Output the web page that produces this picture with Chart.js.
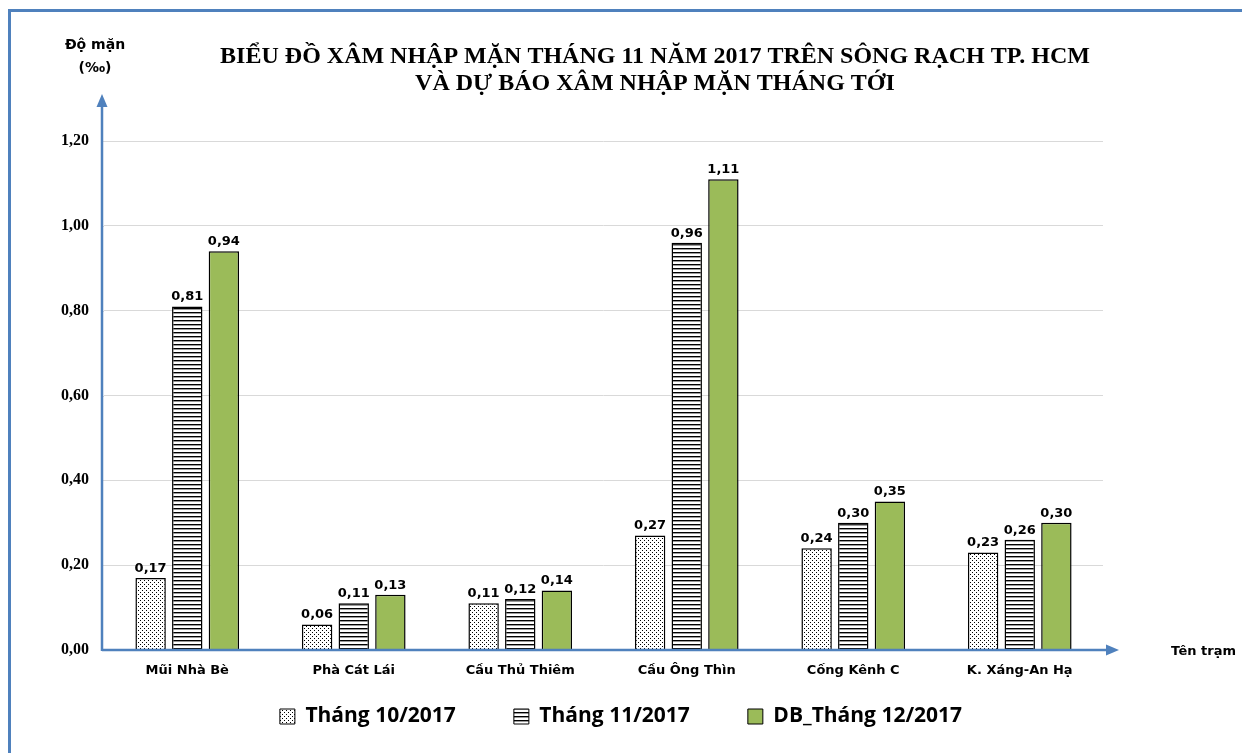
<!DOCTYPE html>
<html>
<head>
<meta charset="utf-8">
<script src="https://cdn.jsdelivr.net/npm/chart.js@4/dist/chart.umd.min.js"></script>
<style>
  body { margin: 0; background: #fff; }
  #khung { position: relative; width: 1242px; height: 753px; overflow: hidden; }
  #vien { position: absolute; left: 8px; top: 9px; right: -10px; bottom: -10px;
          border-top: 3px solid #4f81bd; border-left: 3px solid #4f81bd; pointer-events: none; }
</style>
</head>
<body>
<div id="khung">
  <canvas id="bieuDo" width="1242" height="753"></canvas>
  <div id="vien"></div>
</div>
<script>
// Du lieu doc tu hinh
const tramDo = ["Mũi Nhà Bè", "Phà Cát Lái", "Cầu Thủ Thiêm", "Cầu Ông Thìn", "Cống Kênh C", "K. Xáng-An Hạ"];
const thang10 = [0.17, 0.06, 0.11, 0.27, 0.24, 0.23];
const thang11 = [0.81, 0.11, 0.12, 0.96, 0.30, 0.26];
const duBao12 = [0.94, 0.13, 0.14, 1.11, 0.35, 0.30];
const nhanChuoi = ["Tháng 10/2017", "Tháng 11/2017", "DB_Tháng 12/2017"];
const tieuDe = ["BIỂU ĐỒ XÂM NHẬP MẶN THÁNG 11 NĂM 2017 TRÊN SÔNG RẠCH TP. HCM",
                "VÀ DỰ BÁO XÂM NHẬP MẶN THÁNG TỚI"];

const mauTruc = "#4f81bd";
const fontSans = "'DejaVu Sans', sans-serif";

// hoa van cham bi
function hoaVanCham() {
    const c = document.createElement("canvas");
    c.width = 4; c.height = 4;
    const g = c.getContext("2d");
    g.fillStyle = "#fff"; g.fillRect(0, 0, 4, 4);
    g.fillStyle = "#000";
    g.fillRect(0, 0, 1, 1);
    g.fillRect(2, 2, 1, 1);
    return g.createPattern(c, "repeat");
}
// hoa van soc ngang
function hoaVanSoc() {
    const c = document.createElement("canvas");
    c.width = 4; c.height = 4;
    const g = c.getContext("2d");
    g.fillStyle = "#fff"; g.fillRect(0, 0, 4, 4);
    g.fillStyle = "#000"; g.fillRect(0, 0, 4, 1);
    g.fillStyle = "#9a9a9a"; g.fillRect(0, 1, 4, 1);
    return g.createPattern(c, "repeat");
}

// ve nhan so lieu tren dau cot
const nhanGiaTri = {
    id: "nhanGiaTri",
    afterDatasetsDraw(chart) {
        const ctx = chart.ctx;
        ctx.save();
        ctx.font = "bold 13px " + fontSans;
        ctx.fillStyle = "#000";
        ctx.textAlign = "center";
        ctx.textBaseline = "bottom";
        chart.data.datasets.forEach((ds, i) => {
            chart.getDatasetMeta(i).data.forEach((bar, j) => {
                ctx.fillText(ds.data[j].toFixed(2).replace(".", ","), bar.x, bar.y - 3);
            });
        });
        ctx.restore();
    }
};

// truc co mui ten, tieu de, don vi
const trangTri = {
    id: "trangTri",
    beforeDatasetsDraw(chart) {
        // noi luoi ngang sang trai toi truc
        const ctx = chart.ctx;
        const a = chart.chartArea;
        const y = chart.scales.y;
        ctx.save();
        ctx.strokeStyle = "#d9d9d9";
        ctx.lineWidth = 1;
        y.ticks.forEach(t => {
            const py = Math.round(y.getPixelForValue(t.value)) + 0.5;
            ctx.beginPath();
            ctx.moveTo(a.left - 3, py);
            ctx.lineTo(a.left, py);
            ctx.stroke();
        });
        ctx.restore();
    },
    afterDraw(chart) {
        const ctx = chart.ctx;
        const a = chart.chartArea;
        const x0 = a.left - 2;
        const y0 = chart.scales.y.getPixelForValue(0);
        ctx.save();
        ctx.strokeStyle = mauTruc;
        ctx.fillStyle = mauTruc;
        ctx.lineWidth = 2.5;
        // truc dung
        ctx.beginPath();
        ctx.moveTo(x0, y0 + 1);
        ctx.lineTo(x0, a.top - 35);
        ctx.stroke();
        ctx.beginPath();
        ctx.moveTo(x0, a.top - 47);
        ctx.lineTo(x0 - 5.5, a.top - 34);
        ctx.lineTo(x0 + 5.5, a.top - 34);
        ctx.closePath();
        ctx.fill();
        // truc ngang
        ctx.beginPath();
        ctx.moveTo(x0, y0);
        ctx.lineTo(a.right + 5, y0);
        ctx.stroke();
        ctx.beginPath();
        ctx.moveTo(a.right + 16, y0);
        ctx.lineTo(a.right + 3, y0 - 5.5);
        ctx.lineTo(a.right + 3, y0 + 5.5);
        ctx.closePath();
        ctx.fill();

        ctx.fillStyle = "#000";
        ctx.textAlign = "center";
        ctx.textBaseline = "middle";
        ctx.font = "bold 24px 'Liberation Serif', serif";
        ctx.fillText(tieuDe[0], 655, 57);
        ctx.fillText(tieuDe[1], 655, 84);

        ctx.font = "bold 14px " + fontSans;
        ctx.fillText("Độ mặn", 95, 45);
        ctx.fillText("(‰)", 95, 68);
        ctx.font = "bold 13px " + fontSans;
        ctx.textAlign = "left";
        ctx.fillText("Tên trạm", 1171, y0 + 2);
        ctx.restore();
    }
};

const kieuCot = { borderColor: "#000", borderWidth: 1.5, categoryPercentage: 0.66, barPercentage: 0.83 };

new Chart(document.getElementById("bieuDo"), {
    type: "bar",
    data: {
        labels: tramDo,
        datasets: [
            { label: nhanChuoi[0], data: thang10, backgroundColor: hoaVanCham(), ...kieuCot },
            { label: nhanChuoi[1], data: thang11, backgroundColor: hoaVanSoc(), ...kieuCot },
            { label: nhanChuoi[2], data: duBao12, backgroundColor: "#9bbb59", ...kieuCot }
        ]
    },
    options: {
        responsive: false,
        animation: false,
        layout: { padding: { top: 141, bottom: 16, left: 0, right: 0 } },
        plugins: {
            title: { display: false },
            tooltip: { enabled: false },
            legend: {
                position: "bottom",
                labels: {
                    color: "#000",
                    font: { family: "'Open Sans', sans-serif", size: 21, weight: "bold" },
                    boxWidth: 15,
                    boxHeight: 15,
                    padding: 16,
                    generateLabels(chart) {
                        const ds = chart.data.datasets;
                        return ds.map((d, i) => ({
                            text: d.label + (i < ds.length - 1 ? "\u2003\u2003" : ""),
                            fillStyle: d.backgroundColor,
                            strokeStyle: "#000",
                            lineWidth: 1,
                            datasetIndex: i
                        }));
                    }
                }
            }
        },
        scales: {
            x: {
                grid: { display: false },
                border: { display: false },
                ticks: { color: "#000", padding: 5, font: { family: fontSans, size: 13, weight: "bold" } },
                afterFit(s) { s.height = 40; }
            },
            y: {
                min: 0,
                max: 1.2,
                grid: { color: "#d9d9d9", lineWidth: 1, drawTicks: false },
                border: { display: false },
                ticks: {
                    stepSize: 0.2,
                    padding: 15,
                    color: "#000",
                    font: { family: "'Liberation Serif', serif", size: 16, weight: "bold" },
                    callback: v => v.toFixed(2).replace(".", ",")
                },
                afterFit(s) { s.width = 104; }
            },
            yPhai: {
                position: "right",
                grid: { display: false },
                border: { display: false },
                ticks: { display: false },
                afterFit(s) { s.width = 139; }
            }
        }
    },
    plugins: [nhanGiaTri, trangTri]
});
</script>
</body>
</html>
